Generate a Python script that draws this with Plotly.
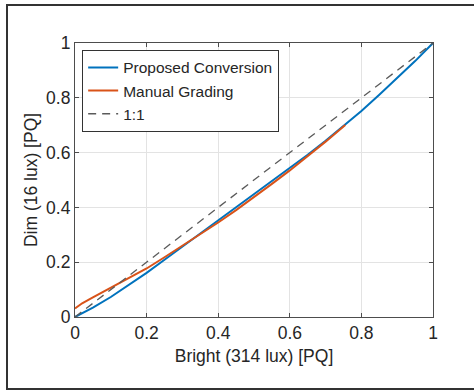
import plotly.graph_objects as go

# Tone-mapping curves: dim-surround PQ as a function of bright-surround PQ
x_proposed = [0.0, 0.05, 0.1, 0.15, 0.2, 0.25, 0.3, 0.35, 0.4, 0.45, 0.5,
              0.55, 0.6, 0.65, 0.7, 0.75, 0.8, 0.85, 0.9, 0.95, 1.0]
y_proposed = [0.0, 0.034, 0.073, 0.116, 0.161, 0.209, 0.257, 0.303, 0.350, 0.398, 0.446,
              0.494, 0.542, 0.592, 0.643, 0.697, 0.752, 0.811, 0.871, 0.934, 1.0]

x_manual = [0.0, 0.02, 0.05, 0.1, 0.15, 0.2, 0.25, 0.3, 0.35, 0.4, 0.45,
            0.5, 0.55, 0.6, 0.65, 0.7, 0.755]
y_manual = [0.031, 0.05, 0.072, 0.106, 0.140, 0.177, 0.218, 0.260, 0.302, 0.345, 0.390,
            0.437, 0.486, 0.535, 0.586, 0.640, 0.701]

x_identity = [0.0, 1.0]
y_identity = [0.0, 1.0]

tick_vals = [0, 0.2, 0.4, 0.6, 0.8, 1]
tick_text = ["0", "0.2", "0.4", "0.6", "0.8", "1"]

FONT = "Liberation Sans, Arial, Helvetica, sans-serif"
AXIS_COLOR = "#4d4d4d"
TEXT_COLOR = "#262626"

fig = go.Figure()
fig.add_trace(go.Scatter(x=x_proposed, y=y_proposed, mode="lines",
                         name="Proposed Conversion",
                         line=dict(color="#0072BD", width=2)))
fig.add_trace(go.Scatter(x=x_manual, y=y_manual, mode="lines",
                         name="Manual Grading",
                         line=dict(color="#D95319", width=2)))
fig.add_trace(go.Scatter(x=x_identity, y=y_identity, mode="lines",
                         name="1:1",
                         line=dict(color="#5a5a5a", width=1.3, dash="8px,6px")))

axis_common = dict(
    range=[0, 1], tickvals=tick_vals, ticktext=tick_text,
    showgrid=True, gridcolor="#e3e3e3", gridwidth=1,
    zeroline=False, showline=True, linecolor=AXIS_COLOR, linewidth=1.2,
    mirror="ticks", ticks="inside", ticklen=4, tickcolor=AXIS_COLOR,
    tickfont=dict(family=FONT, size=17.5, color=TEXT_COLOR),
    title_font=dict(family=FONT, size=17.5, color=TEXT_COLOR),
)

fig.update_layout(
    width=474, height=392,
    margin=dict(l=75, r=41, t=43, b=75),
    paper_bgcolor="white", plot_bgcolor="white",
    xaxis=dict(axis_common, title=dict(text="Bright (314 lux) [PQ]", standoff=7)),
    yaxis=dict(axis_common, title=dict(text="Dim (16 lux) [PQ]", standoff=3)),
    legend=dict(x=0.02, y=0.975, xanchor="left", yanchor="top",
                bgcolor="white", bordercolor="#333333", borderwidth=1,
                font=dict(family=FONT, size=15.5, color=TEXT_COLOR),
                itemwidth=30, tracegroupgap=0),
    showlegend=True,
    shapes=[dict(type="rect", xref="paper", yref="paper",
                 x0=(7 - 75) / 358, x1=(490 - 75) / 358,
                 y0=(317 - 389) / 274, y1=(317 - 5) / 274,
                 line=dict(color="#333333", width=2), layer="below")],
)

fig.write_html("out.html")
